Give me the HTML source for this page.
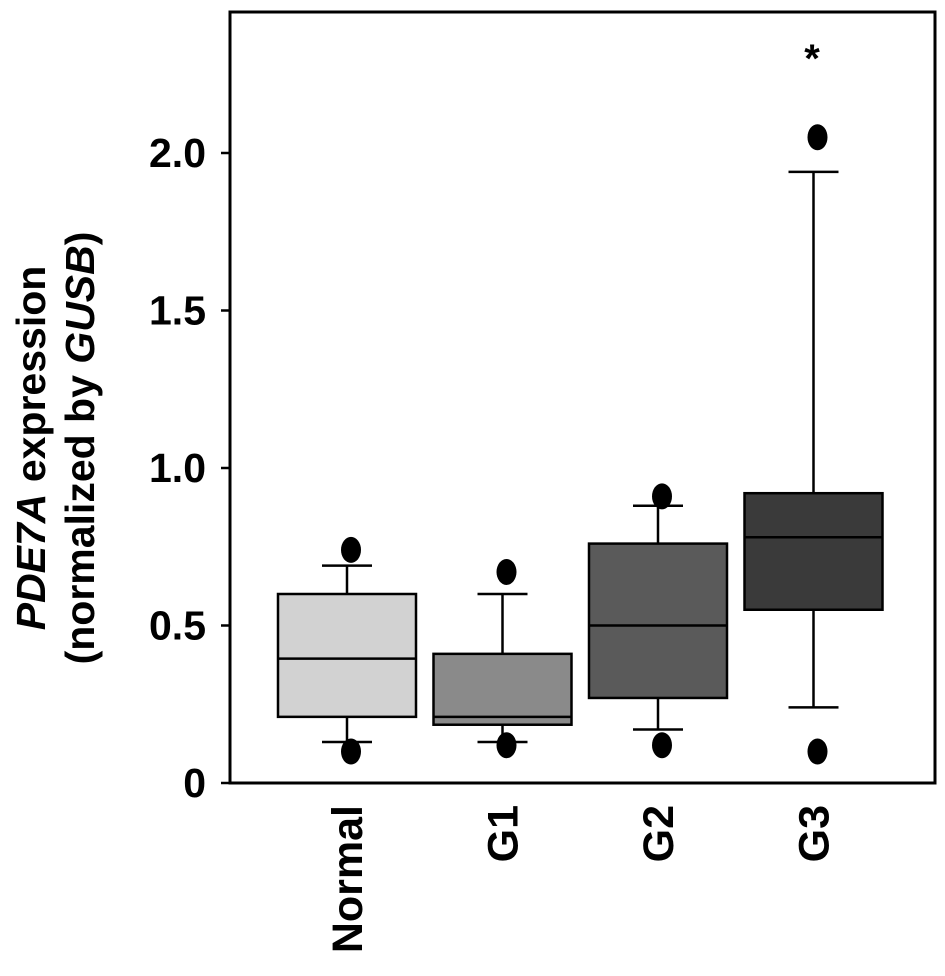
<!DOCTYPE html>
<html><head><meta charset="utf-8"><style>
html,body{margin:0;padding:0;background:#fff;}
svg{display:block;font-family:"Liberation Sans",Arial,sans-serif;}
</style></head><body>
<svg id="chart" width="945" height="976" viewBox="0 0 945 976">
<rect x="230" y="12" width="705" height="771" fill="none" stroke="#000" stroke-width="3"/>
<g id="marks"></g>
<g id="yaxis"></g>
<g id="xaxis"></g>
<text x="812" y="72" font-size="40" font-weight="bold" text-anchor="middle">*</text>
<text transform="translate(45,448) rotate(-90)" font-size="41" font-weight="bold" text-anchor="middle"><tspan font-style="italic">PDE7A</tspan> expression</text>
<text transform="translate(94,448) rotate(-90)" font-size="41" font-weight="bold" text-anchor="middle">(normalized by <tspan font-style="italic">GUSB</tspan>)</text>
</svg>
<script>
const categories=["Normal","G1","G2","G3"];
const q1=[0.21,0.185,0.27,0.55];
const medians=[0.395,0.21,0.50,0.78];
const q3=[0.60,0.41,0.76,0.92];
const whiskerLow=[0.13,0.13,0.17,0.24];
const whiskerHigh=[0.69,0.60,0.88,1.94];
const outlierHigh=[0.74,0.67,0.91,2.05];
const outlierLow=[0.10,0.12,0.12,0.10];
const fills=["#d2d2d2","#8a8a8a","#5a5a5a","#3a3a3a"];
const yTicks=[0,0.5,1.0,1.5,2.0];
const yTickLabels=["0","0.5","1.0","1.5","2.0"];

const NS="http://www.w3.org/2000/svg";
function y(v){return 783-v*315;}
function xc(i){return 347+i*155.5;}
const boxW=138,capW=50;
function mk(tag,attrs,parent){const e=document.createElementNS(NS,tag);for(const k in attrs)e.setAttribute(k,attrs[k]);parent.appendChild(e);return e;}
const marks=document.getElementById('marks');
categories.forEach((c,i)=>{
  const cx=xc(i);
  const g=mk('g',{},marks);
  
  
  const w1=mk('line',{x1:cx,x2:cx,y1:y(q3[i]),y2:y(whiskerHigh[i]),stroke:'#000','stroke-width':2.5},g);
  
  
  const w2=mk('line',{x1:cx,x2:cx,y1:y(q1[i]),y2:y(whiskerLow[i]),stroke:'#000','stroke-width':2.5},g);
  
  
  [whiskerHigh[i],whiskerLow[i]].forEach(v=>{
    const cap=mk('line',{x1:cx-capW/2,x2:cx+capW/2,y1:y(v),y2:y(v),stroke:'#000','stroke-width':2.5},g);
    
    
  });
  const r=mk('rect',{x:cx-boxW/2,y:y(q3[i]),width:boxW,height:y(q1[i])-y(q3[i]),fill:fills[i],stroke:'#000','stroke-width':2.5},g);
  
  
  const m=mk('line',{x1:cx-boxW/2,x2:cx+boxW/2,y1:y(medians[i]),y2:y(medians[i]),stroke:'#000','stroke-width':2.5},g);
  
  
  [outlierHigh[i],outlierLow[i]].forEach(v=>{
    const o=mk('ellipse',{cx:cx+4,cy:y(v),rx:10,ry:13,fill:'#000'},g);
    
    
  });
  const t=mk('text',{transform:`translate(${cx+15},805) rotate(-90)`,'font-size':43,'font-weight':'bold','text-anchor':'end'},document.getElementById('xaxis'));
  t.textContent=c;
  
  
});
const ya=document.getElementById('yaxis');
yTicks.forEach((v,i)=>{
  const l=mk('line',{x1:221,x2:230,y1:y(v),y2:y(v),stroke:'#000','stroke-width':2.5},ya);
  
  
  const t=mk('text',{x:206,y:y(v)+14,'font-size':41,'font-weight':'bold','text-anchor':'end'},ya);
  t.textContent=yTickLabels[i];
  
  
});
</script>
</body></html>
